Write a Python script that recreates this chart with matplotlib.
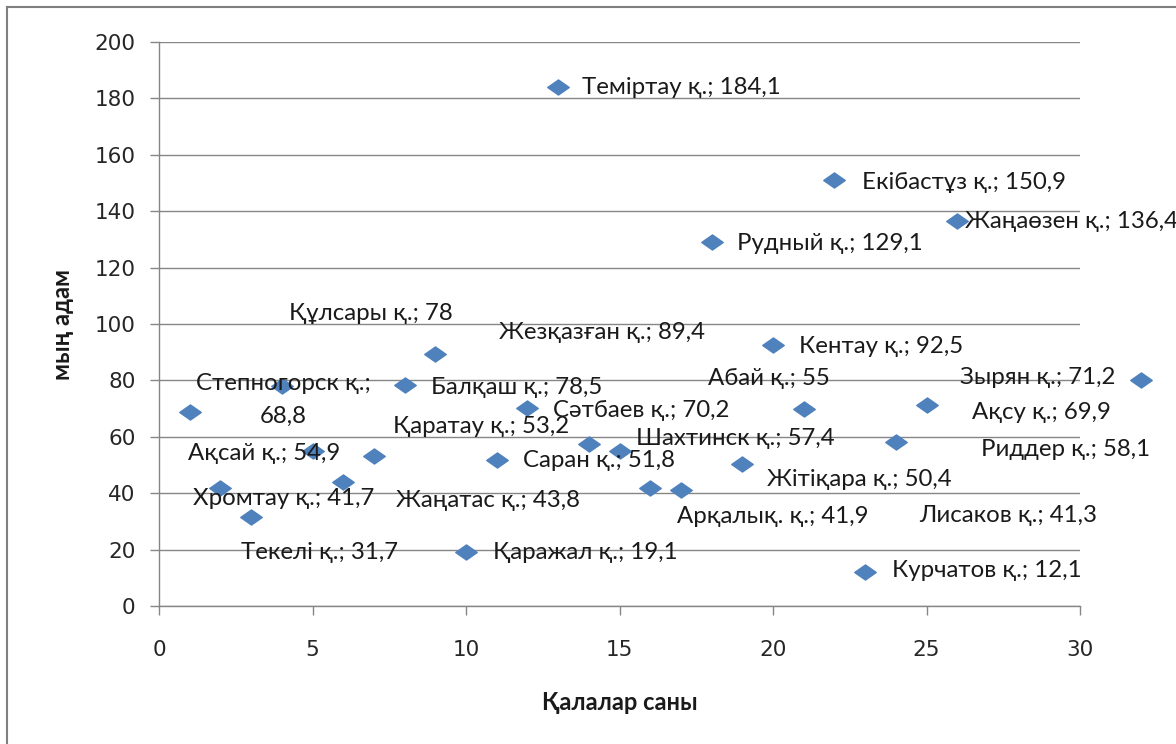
import matplotlib
matplotlib.use("Agg")
import matplotlib.pyplot as plt
from matplotlib.path import Path
from matplotlib.lines import Line2D

# ---- data ----
city_names = ["Степногорск қ.", "Хромтау қ.", "Текелі қ.", "Құлсары қ.", "Ақсай қ.",
              "Жаңатас қ.", "Қаратау қ.", "Балқаш қ.", "Жезқазған қ.", "Қаражал қ.",
              "Саран қ.", "Сәтбаев қ.", "Теміртау қ.", "Шахтинск қ.", "Абай қ.",
              "Арқалық. қ.", "Лисаков қ.", "Рудный қ.", "Жітіқара қ.", "Кентау қ.",
              "Ақсу қ.", "Екібастұз қ.", "Курчатов қ.", "Риддер қ.", "Зырян қ.",
              "Жаңаөзен қ.", None]
x_vals = [1, 2, 3, 4, 5, 6, 7, 8, 9, 10, 11, 12, 13, 14, 15, 16, 17, 18, 19, 20,
          21, 22, 23, 24, 25, 26, 32]
population = [68.8, 41.7, 31.7, 78, 54.9, 43.8, 53.2, 78.5, 89.4, 19.1, 51.8, 70.2,
              184.1, 57.4, 55, 41.9, 41.3, 129.1, 50.4, 92.5, 69.9, 150.9, 12.1, 58.1,
              71.2, 136.4, 80]
x_ticks = [0, 5, 10, 15, 20, 25, 30]
y_ticks = [0, 20, 40, 60, 80, 100, 120, 140, 160, 180, 200]
x_title = "Қалалар саны"
y_title = "мың адам"

# ---- label placement (pixel offsets from marker; style only) ----
label_offsets = [(94, 12), (-27, -10), (-10, -36), (7, 73), (-125, -2),
                 (53, -18), (19, 29), (26, -3), (64, 21), (27, 0),
                 (26, -1), (26, -2), (24, -1), (47, 6), (88, 72),
                 (27, -29), (238, -26), (25, -2), (25, -16), (26, -1),
                 (168, -4), (28, -2), (27, 1), (85, -7), (34, 28),
                 (8, 0), None]
wrapped = {0}

W, H = 1176, 744
fig = plt.figure(figsize=(W / 100, H / 100), dpi=100)
ax = fig.add_axes([159 / W, 1 - 606 / H, (1080 - 159) / W, (606 - 42) / H])

grid_c = "#868686"
ax.set_xlim(0, 30)
ax.set_ylim(0, 200)
ax.set_xticks(x_ticks)
ax.set_yticks(y_ticks)
ax.grid(axis="y", color=grid_c, lw=1.0)
ax.set_axisbelow(True)
for s in ("top", "right"):
    ax.spines[s].set_visible(False)
for s in ("left", "bottom"):
    ax.spines[s].set_color(grid_c)
    ax.spines[s].set_linewidth(1.0)
ax.tick_params(axis="both", direction="out", length=6.5, width=1, color=grid_c,
               labelsize=15.5, labelcolor="#262626")
ax.tick_params(axis="y", pad=10.5)
ax.tick_params(axis="x", pad=18)
for lab in ax.get_xticklabels() + ax.get_yticklabels():
    lab.set_family("DejaVu Sans")

diamond = Path([(-1, 0), (0, 0.7), (1, 0), (0, -0.7), (-1, 0)],
               [Path.MOVETO, Path.LINETO, Path.LINETO, Path.LINETO, Path.CLOSEPOLY])
ax.plot(x_vals, population, ls="none", marker=diamond, ms=15.5,
        color="#4F81BD", mec="#4F81BD", clip_on=False, zorder=3)

lab_font = ["Lato", "Noto Sans", "DejaVu Sans"]
for i, (nm, xv, yv) in enumerate(zip(city_names, x_vals, population)):
    if nm is None:
        continue
    val = f"{yv:g}".replace(".", ",")
    sep = "\n" if i in wrapped else " "
    txt = f"{nm};{sep}{val}"
    dx, dy = label_offsets[i]
    ax.annotate(txt, (xv, yv), xytext=(dx, dy), textcoords="offset pixels",
                ha="center" if i in wrapped else "left", va="center",
                multialignment="center", fontsize=17.3, family=lab_font,
                color="#1a1a1a", zorder=4, annotation_clip=False,
                linespacing=1.65 if i in wrapped else 1.0)

fig.text(620 / W, 1 - 703 / H, x_title, ha="center", va="center",
         fontsize=17, fontweight="bold", family=lab_font, color="#1a1a1a")
fig.text(62 / W, 1 - 324 / H, y_title, ha="center", va="center", rotation=90,
         fontsize=17, fontweight="bold", family=lab_font, color="#1a1a1a")

# chart-area frame (top and left edges visible)
fig.add_artist(Line2D([7 / W, 7 / W], [0, 1 - 7 / H], transform=fig.transFigure,
                      color="#7f7f7f", lw=1.5))
fig.add_artist(Line2D([7 / W, 1], [1 - 7 / H, 1 - 7 / H], transform=fig.transFigure,
                      color="#7f7f7f", lw=1.5))

fig.savefig("out.png", dpi=100)
